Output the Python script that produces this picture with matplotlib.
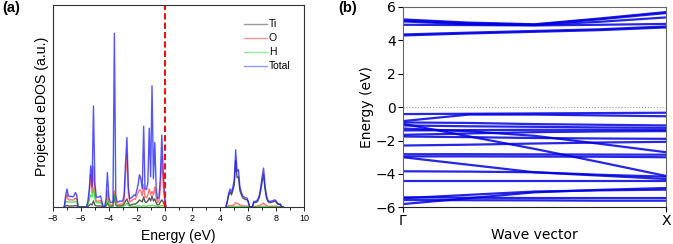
"""Projected eDOS and band structure, two panels."""
import matplotlib
matplotlib.use("Agg")
import matplotlib.pyplot as plt
from matplotlib.ticker import MultipleLocator
import numpy as np

# ---- (a) projected DOS, 0.1 eV grid ----
e_val = np.round(np.arange(-7.2, 0.15, 0.1), 2)   # -7.2 ... 0.1
e_con = np.round(np.arange(4.4, 8.55, 0.1), 2)    # 4.4 ... 8.5

total_val = [0, 0.55, 0.89, 0.55, 0.52, 0.53, 0.50, 0.55, 0.72, 0.60,
             0, 0, 0, 0, 0, 0, 0, 0.30, 0.90, 2.04,
             1.00, 5.00, 1.20, 0.50, 0.48, 0.50, 0.55, 0.30, 0, 0,
             0.40, 1.71, 0.50, 0.25, 0.22, 0.25, 8.60, 0.60, 0.25, 0.25,
             0.30, 0.28, 0.30, 0.60, 2.20, 3.44, 1.00, 0.40, 0.45, 0.50,
             0.60, 0.55, 0.80, 1.10, 1.60, 1.38, 0.90, 4.00, 0.90, 0.86,
             1.20, 3.90, 1.50, 6.00, 1.40, 3.20, 0.90, 0.40, 0.50, 1.50,
             3.56, 1.80, 0.60, 0]
o_val = [0, 0.35, 0.62, 0.36, 0.35, 0.36, 0.34, 0.36, 0.45, 0.38,
         0, 0, 0, 0, 0, 0, 0, 0.18, 0.60, 1.60,
         0.70, 2.00, 0.70, 0.30, 0.28, 0.30, 0.32, 0.18, 0, 0,
         0.20, 0.80, 0.25, 0.12, 0.10, 0.12, 0.80, 0.30, 0.12, 0.12,
         0.15, 0.14, 0.15, 0.35, 1.60, 2.60, 0.70, 0.25, 0.30, 0.35,
         0.40, 0.38, 0.55, 0.70, 0.86, 0.80, 0.55, 1.10, 0.50, 0.45,
         0.60, 0.90, 0.60, 0.77, 0.60, 1.00, 0.45, 0.22, 0.30, 0.90,
         2.50, 1.10, 0.30, 0]
ti_val = [0, 0.05, 0.08, 0.05, 0.05, 0.05, 0.05, 0.05, 0.07, 0.06,
          0, 0, 0, 0, 0, 0, 0, 0.03, 0.08, 0.15,
          0.10, 0.30, 0.10, 0.05, 0.05, 0.05, 0.05, 0.03, 0, 0,
          0.05, 0.20, 0.06, 0.04, 0.04, 0.05, 0.60, 0.08, 0.05, 0.05,
          0.06, 0.06, 0.08, 0.15, 0.30, 0.40, 0.20, 0.08, 0.10, 0.12,
          0.15, 0.14, 0.20, 0.25, 0.35, 0.30, 0.25, 0.50, 0.25, 0.22,
          0.30, 0.45, 0.30, 0.55, 0.30, 0.40, 0.20, 0.10, 0.12, 0.25,
          0.35, 0.25, 0.10, 0]
h_val = [0, 0.22, 0.28, 0.25, 0.24, 0.25, 0.24, 0.25, 0.28, 0.24,
         0, 0, 0, 0, 0, 0, 0, 0.10, 0.35, 0.60,
         0.50, 0.95, 0.40, 0.22, 0.20, 0.21, 0.22, 0.12, 0, 0,
         0.10, 0.40, 0.10, 0.04, 0.04, 0.05, 0.60, 0.08, 0.03, 0.03,
         0.04, 0.03, 0.03, 0.05, 0.10, 0.20, 0.08, 0.03, 0.03, 0.03,
         0.03, 0.03, 0.04, 0.05, 0.06, 0.05, 0.04, 0.08, 0.04, 0.04,
         0.05, 0.08, 0.05, 0.10, 0.05, 0.06, 0.04, 0.03, 0.03, 0.05,
         0.08, 0.06, 0.03, 0]

total_con = [0, 0.30, 0.70, 0.89, 0.72, 1.00, 1.35, 2.83, 1.76, 1.85,
             1.00, 0.75, 0.55, 0.50, 0.45, 0.45, 0.30, 0, 0, 0,
             0.28, 0.28, 0.30, 0.40, 0.60, 1.00, 1.50, 1.93, 1.10, 0.60,
             0.35, 0.28, 0.28, 0.30, 0.32, 0.36, 0.30, 0.20, 0.15, 0.15,
             0, 0]
ti_con = [0, 0.25, 0.58, 0.74, 0.60, 0.82, 1.10, 2.30, 1.45, 1.50,
          0.82, 0.62, 0.45, 0.41, 0.37, 0.37, 0.25, 0, 0, 0,
          0.22, 0.22, 0.24, 0.32, 0.48, 0.82, 1.25, 1.60, 0.90, 0.48,
          0.28, 0.22, 0.22, 0.24, 0.26, 0.29, 0.24, 0.16, 0.12, 0.12,
          0, 0]
o_con = [0, 0.03, 0.06, 0.08, 0.07, 0.09, 0.12, 0.22, 0.16, 0.16,
         0.10, 0.08, 0.06, 0.05, 0.05, 0.05, 0.04, 0, 0, 0,
         0.03, 0.03, 0.04, 0.05, 0.07, 0.10, 0.15, 0.20, 0.12, 0.07,
         0.04, 0.03, 0.03, 0.04, 0.04, 0.05, 0.04, 0.03, 0.02, 0.02,
         0, 0]
h_con = [0, 0.01, 0.02, 0.02, 0.02, 0.02, 0.03, 0.04, 0.03, 0.03,
         0.02, 0.02, 0.01, 0.01, 0.01, 0.01, 0.01, 0, 0, 0,
         0.01, 0.01, 0.01, 0.01, 0.02, 0.02, 0.03, 0.04, 0.02, 0.02,
         0.01, 0.01, 0.01, 0.01, 0.01, 0.01, 0.01, 0.01, 0, 0,
         0, 0]

fermi = 0.05

# ---- (b) band structure: energies at k = 0, 1/4, 1/2, 3/4, 1 (Gamma -> X) ----
kpath = [0, 0.25, 0.5, 0.75, 1.0]
bands = [
    # conduction
    [5.24, 5.05, 4.95, 5.30, 5.68],
    [5.18, 5.00, 4.92, 5.25, 5.62],
    [5.12, 4.95, 4.90, 5.10, 5.36],
    [4.92, 4.90, 4.88, 4.92, 4.97],
    [4.34, 4.45, 4.55, 4.65, 4.82],
    [4.28, 4.40, 4.50, 4.60, 4.76],
    # valence
    [-0.42, -0.40, -0.38, -0.36, -0.34],
    [-0.84, -0.45, -0.45, -0.50, -0.55],
    [-0.92, -0.95, -1.02, -1.06, -1.10],
    [-1.10, -1.15, -1.18, -1.22, -1.24],
    [-1.40, -1.38, -1.36, -1.36, -1.36],
    [-1.66, -1.58, -1.50, -1.46, -1.44],
    [-1.76, -1.80, -1.85, -1.88, -1.90],
    [-2.30, -2.25, -2.18, -2.12, -2.08],
    [-1.28, -1.45, -1.72, -2.20, -2.70],
    [-1.00, -1.75, -2.50, -3.30, -4.12],
    [-2.82, -2.82, -2.83, -2.84, -2.85],
    [-2.95, -2.95, -2.96, -2.97, -3.00],
    [-3.00, -3.45, -3.90, -4.05, -4.16],
    [-3.84, -3.86, -3.90, -4.10, -4.30],
    [-4.40, -4.40, -4.40, -4.40, -4.40],
    [-5.80, -5.45, -5.10, -4.95, -4.84],
    [-5.45, -5.25, -5.05, -4.98, -4.94],
    [-5.40, -5.42, -5.44, -5.44, -5.44],
    [-5.56, -5.57, -5.58, -5.60, -5.60],
]

fig = plt.figure(figsize=(6.73, 2.44), dpi=100)
ax1 = fig.add_axes([0.0788, 0.1516, 0.3729, 0.8279])
ax2 = fig.add_axes([0.5988, 0.1500, 0.3908, 0.8225])

arial = "Liberation Sans"
series = [("Ti", ti_val, ti_con, "#222222", 0.75),
          ("O", o_val, o_con, "#ff1a1a", 0.6),
          ("H", h_val, h_con, "#1ad11a", 0.7),
          ("Total", total_val, total_con, "#1a1aff", 0.75)]
for name, v, c, col, a in series:
    ax1.plot(e_val, v, color=col, lw=1.0, alpha=a, label=name)
    ax1.plot(e_con, c, color=col, lw=1.0, alpha=a)

ax1.axvline(fermi, color="#ee1111", ls="--", lw=1.5, dashes=(3, 1.5))
ax1.set_xlim(-8, 10)
ax1.set_ylim(0, 10)
ax1.set_yticks([])
ax1.xaxis.set_major_locator(MultipleLocator(2))
ax1.xaxis.set_minor_locator(MultipleLocator(1))
ax1.tick_params(axis="x", which="major", length=3, width=0.6, labelsize=6.5, pad=2)
ax1.tick_params(axis="x", which="minor", length=2, width=0.6)
for lbl in ax1.get_xticklabels():
    lbl.set_family(arial)
for s in ax1.spines.values():
    s.set_color("#333333")
    s.set_linewidth(0.8)
ax1.set_xlabel("Energy (eV)", family=arial, fontsize=10, labelpad=4)
ax1.set_ylabel("Projected eDOS (a.u.)", family=arial, fontsize=10.2, labelpad=3)
leg = ax1.legend(loc="upper right", bbox_to_anchor=(0.975, 0.965), frameon=False,
                 prop={"family": arial, "size": 7.5}, handlelength=2.2,
                 handletextpad=0.2, labelspacing=0.38, borderaxespad=0.3)
for h in leg.legend_handles:
    h.set_alpha(0.45)

for b in bands:
    ax2.plot(kpath, b, color="#0000e0", lw=1.6, alpha=0.85)
ax2.axhline(0, color="#999999", ls=":", lw=0.8)
ax2.set_xlim(0, 1)
ax2.set_ylim(-6, 6)
ax2.set_yticks([-6, -4, -2, 0, 2, 4, 6])
ax2.set_xticks([0, 1])
ax2.set_xticklabels(["Γ", "X"])
ax2.tick_params(labelsize=10, length=3.5, width=0.8, pad=1.5)
for s in ax2.spines.values():
    s.set_color("#666666")
ax2.spines["bottom"].set_color("#222222")
ax2.set_xlabel("Wave vector", fontsize=10, labelpad=0)
ax2.set_ylabel("Energy (eV)", fontsize=10, labelpad=1)

fig.text(0.003, 0.997, "(a)", family=arial, fontweight="bold", fontsize=10.5, va="top")
fig.text(0.503, 0.997, "(b)", family=arial, fontweight="bold", fontsize=10.5, va="top")

fig.savefig("out.png", dpi=100)
